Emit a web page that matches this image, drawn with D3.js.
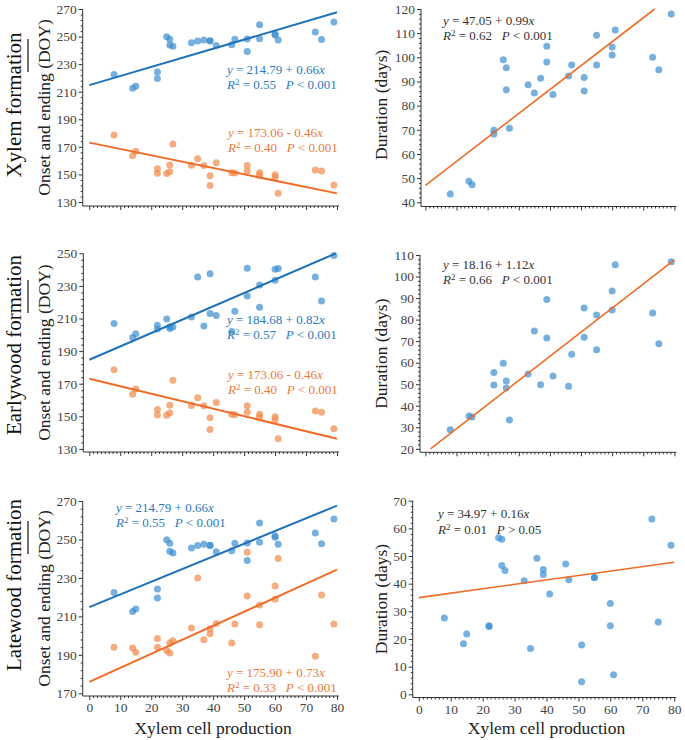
<!DOCTYPE html>
<html><head><meta charset="utf-8">
<script src="https://cdn.jsdelivr.net/npm/d3@7"></script>
<style>
body{margin:0;background:#fff;}
svg{display:block;font-family:"Liberation Serif","Times New Roman",Times,serif;}
</style></head><body>
<svg id="c" width="685" height="740"></svg>
<script>
// ---------------- data ----------------
const cellProduction = [8,14,15,22,22,25,26,26,27,33,35,37,39,39,41,46,47,51,51,55,55,60,60,61,73,75,79];
const xylemOnset = [178.6,163.6,166.8,154.2,150.8,150.6,152.0,156.8,172.1,156.6,161.4,156.4,149.1,141.9,158.5,151.3,151.0,156.4,152.5,151.3,149.4,149.8,147.9,136.3,153.2,152.5,142.3];
const xylemEnding = [222.4,212.5,213.9,224.3,219.5,249.9,248.0,243.9,242.9,245.6,246.8,247.5,247.0,246.8,243.6,244.1,248.0,248.2,239.1,258.6,248.5,251.9,251.1,247.5,253.3,247.8,260.6];
const earlywoodEnding = [206.9,198.3,200.7,205.8,203.6,209.7,203.8,205.0,204.8,210.9,235.5,205.4,237.5,213.0,211.8,202.0,214.4,240.8,223.8,230.6,216.9,233.4,240.2,240.6,235.5,220.8,248.6];
const latewoodOnset = [194.0,193.5,191.4,198.5,194.0,192.3,191.0,196.1,197.3,203.9,230.0,197.8,203.6,201.0,206.3,196.1,206.0,243.4,220.6,215.9,205.7,225.8,218.9,240.1,189.3,221.1,206.0];
const xylemDuration = [43.4,48.7,47.3,69.8,68.3,99.0,95.7,86.6,70.6,88.7,85.2,91.3,104.6,98.1,84.6,92.3,96.8,91.7,86.1,109.1,96.8,104.3,101.0,111.3,100.0,94.9,117.9];
const earlywoodDuration = [28.9,35.2,34.8,55.4,49.6,59.7,51.5,48.2,33.4,54.7,74.7,49.8,89.3,71.5,53.8,49.0,63.9,85.4,71.8,82.1,66.0,93.3,84.5,105.5,83.1,68.8,106.9];
const latewoodDuration = [27.6,18.3,21.8,24.8,24.5,56.6,56.1,46.6,44.8,41.1,16.6,49.2,45.1,43.3,36.3,47.1,41.4,17.8,4.5,42.2,42.2,32.8,24.8,7.1,63.4,26.1,53.9];

// regression fits: [intercept, slope]
const fitXylemOnset = [173.06, -0.46];
const fitXylemEnding = [214.79, 0.66];
const fitEarlywoodEnding = [184.68, 0.82];
const fitLatewoodOnset = [175.90, 0.73];
const fitXylemDuration = [47.05, 0.99];
const fitEarlywoodDuration = [18.16, 1.12];
const fitLatewoodDuration = [34.97, 0.16];
// annotation strings [R2, relation, P]
const statXylemOnset = ["0.40", "<", "0.001"];
const statXylemEnding = ["0.55", "<", "0.001"];
const statEarlywoodEnding = ["0.57", "<", "0.001"];
const statLatewoodOnset = ["0.33", "<", "0.001"];
const statXylemDuration = ["0.62", "<", "0.001"];
const statEarlywoodDuration = ["0.66", "<", "0.001"];
const statLatewoodDuration = ["0.01", ">", "0.05"];

// tick labels
const xTicks = [0,10,20,30,40,50,60,70,80];
const yTicksXylemDOY = [130,150,170,190,210,230,250,270];
const yTicksEarlyDOY = [130,150,170,190,210,230,250];
const yTicksLateDOY = [170,190,210,230,250,270];
const yTicksXylemDur = [40,50,60,70,80,90,100,110,120];
const yTicksEarlyDur = [20,30,40,50,60,70,80,90,100,110];
const yTicksLateDur = [0,10,20,30,40,50,60,70];
const rowLabels = ["Xylem formation","Earlywood formation","Latewood formation"];
const yTitleLeft = "Onset and ending (DOY)";
const yTitleRight = "Duration (days)";
const xTitle = "Xylem cell production";

// ---------------- style ----------------
const FONT = '"Liberation Serif","Times New Roman",Times,serif';
const BLUE_PT = "#3d8fce", ORANGE_PT = "#f08a4b";
const BLUE_LINE = "#1f72b8", ORANGE_LINE = "#ef6c28";
const BLUE_TXT = "#2b7bbd", ORANGE_TXT = "#ea7a3c";
const AXIS = "#333";

const svg = d3.select("#c");

function fmt(v){ return v.toFixed(2); }

// both lines in one text element
function eqText(g, xp, yp, fit, stat, color, gap){
  const t = g.append("text").attr("x", xp).attr("y", yp).attr("fill", color)
    .attr("font-size", 13).attr("font-family", FONT).style("white-space","pre");
  t.append("tspan").attr("font-style","italic").text("y");
  t.append("tspan").text(" = " + fmt(fit[0]) + (fit[1] < 0 ? " - " : " + ") + fmt(Math.abs(fit[1])));
  t.append("tspan").attr("font-style","italic").text("x");
  t.append("tspan").attr("x", xp).attr("y", yp + gap).attr("font-style","italic").text("R");
  t.append("tspan").attr("font-size", 9).attr("dy", -4).text("2");
  t.append("tspan").attr("dy", 4).text(" = " + stat[0] + "   ");
  t.append("tspan").attr("font-style","italic").text("P");
  t.append("tspan").text(" " + stat[1] + " " + stat[2]);
}

function range(a, b, s){ const r=[]; for(let v=a; v<=b+1e-9; v+=s) r.push(+v.toFixed(6)); return r; }

function tickMarks(g, axisGen){
  g.call(axisGen);
  g.select(".domain").remove();
  g.selectAll("line").attr("stroke", AXIS);
}

function panel(c){
  const g = svg.append("g");
  const x = d3.scaleLinear().domain([0,80]).range([c.x0, c.x1]);
  const y = d3.scaleLinear().domain([c.yTicks[0], c.yTicks[c.yTicks.length-1]]).range([c.yB, c.yT]);
  const yMin = y.domain()[0], yMax = y.domain()[1];
  const yStep = c.yTicks[1]-c.yTicks[0];

  const yMinor = range(yMin, yMax, yStep/5).filter(v => !c.yTicks.includes(v));
  const ym = g.append("g").attr("transform",`translate(${c.ax},0)`);
  tickMarks(ym, d3.axisLeft(y).tickValues(yMinor).tickSize(2));
  ym.selectAll("text").remove();
  const ya = g.append("g").attr("transform",`translate(${c.ax},0)`);
  tickMarks(ya, d3.axisLeft(y).tickValues(c.yTicks).tickSize(4).tickPadding(2));
  ya.attr("font-family", FONT);
  ya.selectAll("text").attr("font-size", 13.5).attr("fill", "#444");

  const xMinor = range(0, 80, 1.25).filter(v => !xTicks.includes(v));
  const xm = g.append("g").attr("transform",`translate(0,${c.ay})`);
  tickMarks(xm, d3.axisBottom(x).tickValues(xMinor).tickSize(2));
  xm.selectAll("text").remove();
  const xa = g.append("g").attr("transform",`translate(0,${c.ay})`);
  tickMarks(xa, d3.axisBottom(x).tickValues(xTicks).tickSize(4).tickPadding(2.5).tickFormat(d3.format("d")));
  xa.attr("font-family", FONT);
  if (c.xLabels) xa.selectAll("text").attr("font-size", 13.5).attr("fill", "#444");
  else xa.selectAll("text").remove();

  g.append("line").attr("x1", c.ax).attr("x2", c.ax).attr("y1", c.yT).attr("y2", c.ay)
    .attr("stroke", AXIS).attr("stroke-width", 1);
  g.append("line").attr("x1", c.ax).attr("x2", c.x1 + 2).attr("y1", c.ay).attr("y2", c.ay)
    .attr("stroke", AXIS).attr("stroke-width", 1);

  c.series.forEach(s => {
    g.append("g").selectAll("circle").data(cellProduction.map((v,i)=>[v, s.vals[i]]))
      .join("circle").attr("cx", d => x(d[0])).attr("cy", d => y(d[1])).attr("r", 3.5)
      .attr("fill", s.color).attr("fill-opacity", 0.7);
  });
  c.fits.forEach(f => {
    const [a, b] = f.fit;
    let xs = 0, xe = 80;
    const f0 = a, f80 = a + 80*b;
    if (b > 0) { if (f80 > yMax) xe = (yMax - a)/b; if (f0 < yMin) xs = (yMin - a)/b; }
    if (b < 0) { if (f80 < yMin) xe = (yMin - a)/b; if (f0 > yMax) xs = (yMax - a)/b; }
    g.append("line").attr("x1", x(xs)).attr("y1", y(a + b*xs)).attr("x2", x(xe)).attr("y2", y(a + b*xe))
      .attr("stroke", f.color).attr("stroke-width", f.w);
  });
  c.texts.forEach(t => eqText(g, t.x, t.y, t.fit, t.stat, t.color, t.gap));

  const cy = (c.yT + c.ay)/2;
  g.append("text").attr("transform", `translate(${c.tx},${cy + (c.tdy||0)}) rotate(-90)`)
    .attr("text-anchor","middle").attr("font-size", 17.5).attr("font-family", FONT)
    .attr("fill", "#222").text(c.title);
  if (c.xLabels) {
    g.append("text").attr("x", (c.x0 + c.x1)/2).attr("y", 733.5).attr("text-anchor","middle")
      .attr("font-size", 17.5).attr("font-family", FONT).attr("fill", "#222").text(xTitle);
  }
}

// ---------------- row 1 ----------------
panel({x0:89.3, x1:337, ax:82.7, ay:206, yT:9, yB:202, yTicks:yTicksXylemDOY, xLabels:false,
  tx:50, title:yTitleLeft,
  series:[{vals:xylemEnding, color:BLUE_PT},{vals:xylemOnset, color:ORANGE_PT}],
  fits:[{fit:fitXylemEnding, color:BLUE_LINE, w:2},{fit:fitXylemOnset, color:ORANGE_LINE, w:2}],
  texts:[{x:227, y:74, fit:fitXylemEnding, stat:statXylemEnding, color:BLUE_TXT, gap:15},
         {x:228, y:137, fit:fitXylemOnset, stat:statXylemOnset, color:ORANGE_TXT, gap:15}]});
panel({x0:425.4, x1:674.4, ax:421, ay:206.5, yT:9, yB:202.3, yTicks:yTicksXylemDur, xLabels:false,
  tx:387, title:yTitleRight, tdy:-3,
  series:[{vals:xylemDuration, color:BLUE_PT}],
  fits:[{fit:fitXylemDuration, color:ORANGE_LINE, w:1.6}],
  texts:[{x:443, y:24.5, fit:fitXylemDuration, stat:statXylemDuration, color:"#333", gap:15}]});

// ---------------- row 2 ----------------
panel({x0:89.3, x1:337, ax:83.3, ay:452, yT:253.3, yB:448.9, yTicks:yTicksEarlyDOY, xLabels:false,
  tx:50, title:yTitleLeft,
  series:[{vals:earlywoodEnding, color:BLUE_PT},{vals:xylemOnset, color:ORANGE_PT}],
  fits:[{fit:fitEarlywoodEnding, color:BLUE_LINE, w:2},{fit:fitXylemOnset, color:ORANGE_LINE, w:2}],
  texts:[{x:227, y:323.5, fit:fitEarlywoodEnding, stat:statEarlywoodEnding, color:BLUE_TXT, gap:15},
         {x:228, y:379, fit:fitXylemOnset, stat:statXylemOnset, color:ORANGE_TXT, gap:15}]});
panel({x0:425.4, x1:674.4, ax:420, ay:452.3, yT:255, yB:448.8, yTicks:yTicksEarlyDur, xLabels:false,
  tx:387, title:yTitleRight,
  series:[{vals:earlywoodDuration, color:BLUE_PT}],
  fits:[{fit:fitEarlywoodDuration, color:ORANGE_LINE, w:1.6}],
  texts:[{x:443, y:268.5, fit:fitEarlywoodDuration, stat:statEarlywoodDuration, color:"#333", gap:15.5}]});

// ---------------- row 3 ----------------
panel({x0:89.3, x1:337, ax:82.7, ay:696, yT:501, yB:693.3, yTicks:yTicksLateDOY, xLabels:true,
  tx:50, title:yTitleLeft,
  series:[{vals:xylemEnding, color:BLUE_PT},{vals:latewoodOnset, color:ORANGE_PT}],
  fits:[{fit:fitXylemEnding, color:BLUE_LINE, w:2},{fit:fitLatewoodOnset, color:ORANGE_LINE, w:2}],
  texts:[{x:116, y:512, fit:fitXylemEnding, stat:statXylemEnding, color:BLUE_TXT, gap:15},
         {x:227, y:677, fit:fitLatewoodOnset, stat:statLatewoodOnset, color:ORANGE_TXT, gap:15}]});
panel({x0:418.8, x1:674.2, ax:412.7, ay:697.5, yT:500.7, yB:694.3, yTicks:yTicksLateDur, xLabels:true,
  tx:387, title:yTitleRight,
  series:[{vals:latewoodDuration, color:BLUE_PT}],
  fits:[{fit:fitLatewoodDuration, color:ORANGE_LINE, w:1.6}],
  texts:[{x:438, y:517.5, fit:fitLatewoodDuration, stat:statLatewoodDuration, color:"#333", gap:16.5}]});

// row labels with short rule marks
const rowCenters = [105, 345, 585];
const ruleSpans = [[39, 72], [280, 313], [521, 554]];
rowLabels.forEach((t, i) => {
  svg.append("text").attr("transform", `translate(21,${rowCenters[i]}) rotate(-90)`)
    .attr("text-anchor","middle").attr("font-size", 21).attr("font-family", FONT)
    .attr("fill", "#111").text(t);
  svg.append("line").attr("x1", 28).attr("x2", 28).attr("y1", ruleSpans[i][0]).attr("y2", ruleSpans[i][1])
    .attr("stroke", "#111").attr("stroke-width", 1.2);
});
</script>
</body></html>
